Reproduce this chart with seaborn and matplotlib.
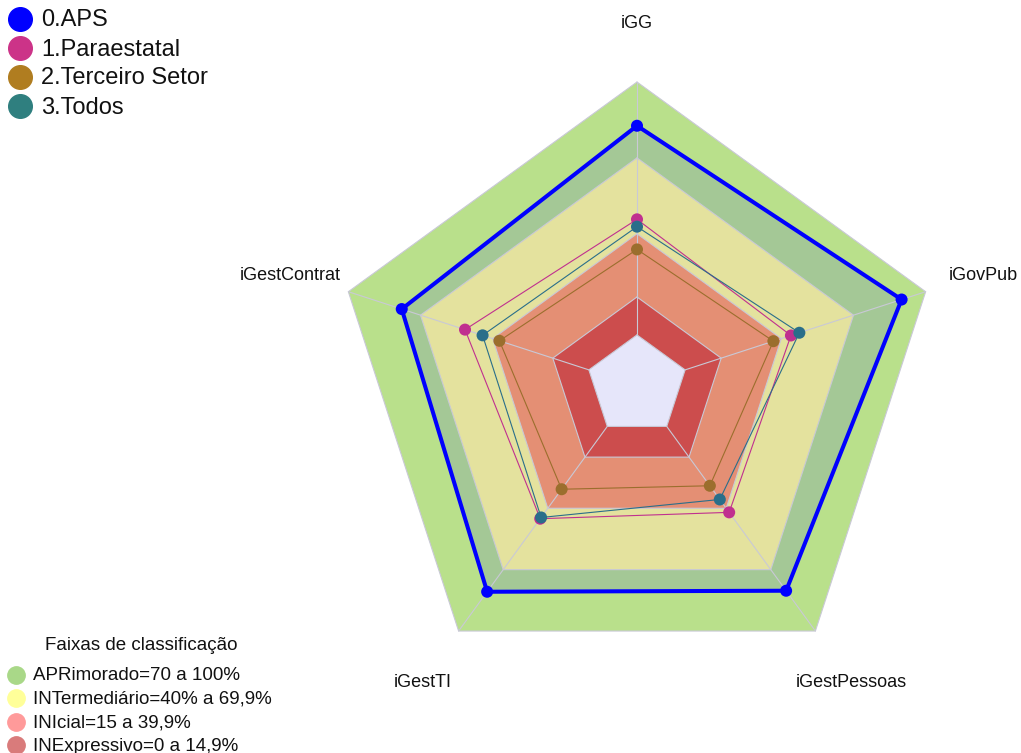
import numpy as np
import pandas as pd
import matplotlib
matplotlib.use('Agg')
import matplotlib.pyplot as plt
import seaborn as sns

# axes of the radar, clockwise from the top
eixos = ['iGG', 'iGovPub', 'iGestPessoas', 'iGestTI', 'iGestContrat']

# index values (%)
grupos = ['0.APS', '1.Paraestatal', '2.Terceiro Setor', '3.Todos']
aps = [82.7, 90.0, 80.3, 80.8, 77.8]
paraestatal = [45.7, 44.0, 42.0, 45.1, 51.5]
terceiro = [33.8, 36.7, 29.0, 30.7, 37.2]
todos = [42.8, 47.5, 35.7, 44.5, 44.2]

# classification bands (upper limits, %)
faixas = ['APRimorado=70 a 100%', 'INTermediário=40% a 69,9%',
          'INIcial=15 a 39,9%', 'INExpressivo=0 a 14,9%']
faixa_lim = [100, 70, 40, 15, 0]

cores_linha = ['#0000ff', '#c0308f', '#9b6e2d', '#2a6e8a']
cores_leg = ['#0000ff', '#cc3388', '#b07d20', '#2f7f7f']
cores_faixa = ['#b9e08b', '#e4e29e', '#e48f74', '#cc4d4d']
cores_faixa_leg = ['#a9d888', '#ffff99', '#ff9a9a', '#d97b7b']
cor_aps_fill = '#a4c896'
cor_centro = '#e6e6fa'

sns.set_theme(style='white')
plt.rcParams['font.family'] = ['Liberation Sans', 'DejaVu Sans']

W, H = 1021, 753
cx, cy, R = 637, 385.5, 303.5

fig = plt.figure(figsize=(W / 100, H / 100), dpi=100)
ax = fig.add_axes([0, 0, 1, 1])
ax.set_xlim(-cx / R, (W - cx) / R)
ax.set_ylim((cy - H) / R, cy / R)
ax.set_aspect('equal')
ax.axis('off')

n = len(eixos)
ang = np.deg2rad(90 - 72 * np.arange(n))


def raio(v):
    # fmsb style: 0 sits at 1/(seg+1) of the radius
    return 1 / 6 + 5 / 6 * np.asarray(v, dtype=float) / 100


def poly(v):
    r = raio(v)
    x = r * np.cos(ang)
    y = r * np.sin(ang)
    return np.append(x, x[0]), np.append(y, y[0])


# bands
x, y = poly([faixa_lim[0]] * n)
ax.fill(x, y, color=cores_faixa[0], lw=0, zorder=1)
x, y = poly(aps)
ax.fill(x, y, color=cor_aps_fill, lw=0, zorder=2)
for i in range(1, 4):
    x, y = poly([faixa_lim[i]] * n)
    ax.fill(x, y, color=cores_faixa[i], lw=0, zorder=3)
x, y = poly([0] * n)
ax.fill(x, y, color=cor_centro, lw=0, zorder=3)

# grid
for lim in faixa_lim:
    x, y = poly([lim] * n)
    ax.plot(x, y, color='#c9c9d6', lw=0.8, zorder=4)
for a in ang:
    ax.plot([raio(0) * np.cos(a), np.cos(a)], [raio(0) * np.sin(a), np.sin(a)],
            color='#c9c9d6', lw=0.8, zorder=4)

# series
series = [aps, paraestatal, terceiro, todos]
rows = []
for g, vals in zip(grupos, series):
    for e, v in zip(eixos, vals):
        rows.append({'grupo': g, 'eixo': e, 'valor': v})
df = pd.DataFrame(rows)
df['r'] = raio(df['valor'])
df['a'] = df['eixo'].map(dict(zip(eixos, ang)))
df['x'] = df['r'] * np.cos(df['a'])
df['y'] = df['r'] * np.sin(df['a'])

for k in [1, 3, 2, 0]:
    x, y = poly(series[k])
    ax.plot(x, y, color=cores_linha[k], lw=2.9 if k == 0 else 0.8,
            zorder=6 if k == 0 else 5)

sns.scatterplot(data=df, x='x', y='y', hue='grupo', palette=cores_linha,
                hue_order=grupos, s=75, linewidth=0, legend=False, ax=ax, zorder=7)

# axis labels
for e, a in zip(eixos, ang):
    ax.text(1.2 * np.cos(a), 1.2 * np.sin(a) - 2.5 / R, e, ha='center', va='center',
            fontsize=13, color='#111111', zorder=8)

# top-left legend
for i, (g, c) in enumerate(zip(grupos, cores_leg)):
    yy = 1 - (18.5 + 29 * i) / H
    fig.add_artist(plt.Line2D([20 / W], [yy], marker='o', markersize=17,
                              color=c, linestyle='none'))
    fig.text(41 / W, yy - 2 / H, g, fontsize=17, va='center', ha='left', color='#111111')

# bottom-left legend
fig.text(141 / W, 1 - 646 / H, 'Faixas de classificação', fontsize=13.5,
         ha='center', va='center', color='#111111')
for i, (f, c) in enumerate(zip(faixas, cores_faixa_leg)):
    yy = 1 - (675 + 23.4 * i) / H
    fig.add_artist(plt.Line2D([16 / W], [yy], marker='o', markersize=12.5,
                              color=c, markeredgecolor=c, linestyle='none'))
    fig.text(33 / W, yy - 1 / H, f, fontsize=13.5, va='center', ha='left', color='#111111')

fig.savefig('out.png', dpi=100)
plt.close('all')
